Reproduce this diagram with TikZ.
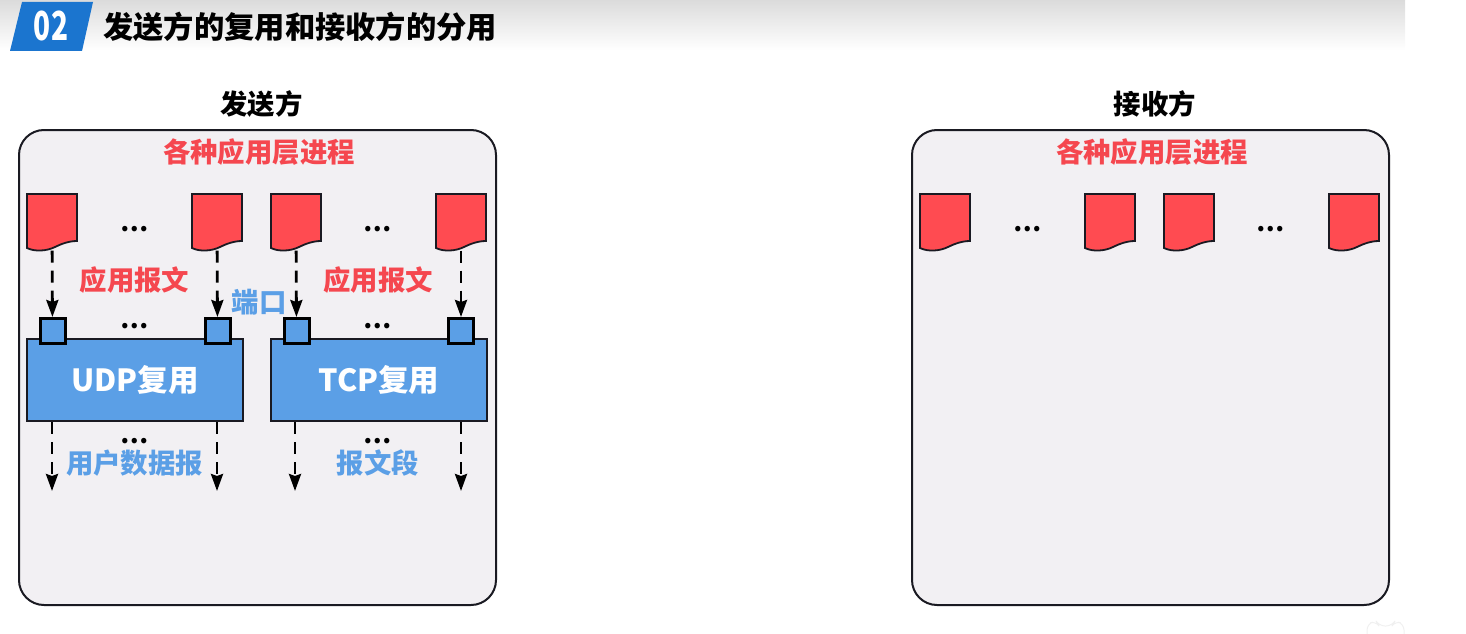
\documentclass[tikz,border=0pt]{standalone}
\usepackage{fontspec}
\usepackage{xparse}
\setmainfont{Noto Sans CJK SC}
\usetikzlibrary{arrows.meta}
\definecolor{DInk}{HTML}{1A1A22}
\definecolor{Panel}{HTML}{F2F0F3}
\definecolor{LRed}{HTML}{FF4B51}
\definecolor{TRed}{HTML}{F5474F}
\definecolor{LBlue}{HTML}{5B9FE6}
\definecolor{HBlue}{HTML}{1B75CF}
\tikzset{
    panelbox/.style={draw=DInk, fill=Panel, line width=2pt, rounded corners=25pt},
    sidelabel/.style={font=\bfseries\fontsize{27.4}{27}\selectfont, text=black, inner sep=0pt},
    redlabel/.style={font=\bfseries\fontsize{27.4}{27}\selectfont, text=TRed, inner sep=0pt},
    bluelabel/.style={font=\bfseries\fontsize{27.4}{27}\selectfont, text=LBlue, inner sep=0pt},
    dotlabel/.style={font=\bfseries\fontsize{25}{25}\selectfont, text=black, inner sep=0pt},
    muxbox/.style={draw=DInk, fill=LBlue, line width=2pt, minimum width=216pt, minimum height=82pt,
        inner sep=0pt, text=white, font=\bfseries\fontsize{30.5}{30}\selectfont},
    portbox/.style={draw=black, fill=LBlue, line width=3pt, minimum size=25pt, inner sep=0pt},
    docnode/.style={minimum width=50pt, minimum height=57pt, inner sep=0pt},
    flow/.style={black, line width=2.8pt, dash pattern=on 12pt off 8pt,
        -{Stealth[length=17pt, width=12pt, inset=2pt]}},
}
\NewDocumentCommand{\ProcDoc}{O{(0,0)} m}{
    \begin{scope}[shift={#1}]
    \draw[DInk, line width=1.8pt, fill=LRed] (0,0) -- (50,0) -- (50,47)
        .. controls (42,47) and (34,50) .. (28,53)
        .. controls (20,57) and (8,58) .. (0,54) -- cycle;
    \node[docnode] (#2) at (25,28) {};
    \end{scope}
}

\begin{document}
\begin{tikzpicture}[x=1pt, y=-1pt]
\useasboundingbox (0,0) rectangle (1466,634);

% header
\shade[top color=black!14, bottom color=white] (0,0) rectangle (1405,50);
\fill[HBlue] (22,2) -- (93,2) -- (82,51) -- (10,51) -- cycle;
\node[text=white, font=\bfseries\fontsize{40}{40}\selectfont, xscale=.7, inner sep=0pt] (num) at (51,26) {02};
\node[anchor=west, text=black, font=\bfseries\fontsize{30.3}{30}\selectfont, inner sep=0pt] (title) at (103,27) {发送方的复用和接收方的分用};

% sender
\node[sidelabel] (send) at (261.5,104) {发送方};
\draw[panelbox] (19,130) rectangle (496,605);
\node[redlabel] (send-proc) at (259,152) {各种应用层进程};

\ProcDoc[(27,194)]{doc-a}
\ProcDoc[(192,194)]{doc-b}
\ProcDoc[(271,194)]{doc-c}
\ProcDoc[(436,194)]{doc-d}
\node[dotlabel] (dots-a) at (134.5,229) {…};
\node[dotlabel] (dots-b) at (378,229) {…};

\node[redlabel] (msg-a) at (134.5,280) {应用报文};
\node[redlabel] (msg-b) at (378,280) {应用报文};
\node[bluelabel] (port-label) at (259,302) {端口};
\node[dotlabel] (dots-c) at (134.5,326) {…};
\node[dotlabel] (dots-d) at (378,326) {…};

\node[muxbox] (udp) at (135,380) {UDP复用};
\node[muxbox] (tcp) at (379,380) {TCP复用};

\node[portbox] (port-a) at (52.5,331) {};
\node[portbox] (port-b) at (217.5,331) {};
\node[portbox] (port-c) at (296.5,331) {};
\node[portbox] (port-d) at (461,331) {};

\draw[flow] (doc-a) -- (port-a);
\draw[flow] (doc-b) -- (port-b);
\draw[flow] (doc-c) -- (port-c);
\draw[flow] (doc-d) -- (port-d);

\coordinate (out-a) at (52,491);
\coordinate (out-b) at (217,491);
\coordinate (out-c) at (295,491);
\coordinate (out-d) at (461,491);
\draw[flow] (out-a |- udp.south) -- (out-a);
\draw[flow] (out-b |- udp.south) -- (out-b);
\draw[flow] (out-c |- tcp.south) -- (out-c);
\draw[flow] (out-d |- tcp.south) -- (out-d);

\node[dotlabel] (dots-e) at (134.5,441) {…};
\node[dotlabel] (dots-f) at (378,441) {…};
\node[bluelabel] (udp-label) at (134.5,463) {用户数据报};
\node[bluelabel] (tcp-label) at (378,463) {报文段};

% receiver
\node[sidelabel] (recv) at (1155,104) {接收方};
\draw[panelbox] (912,130) rectangle (1389,605);
\node[redlabel] (recv-proc) at (1152,152) {各种应用层进程};

\ProcDoc[(920,194)]{rdoc-a}
\ProcDoc[(1085,194)]{rdoc-b}
\ProcDoc[(1164,194)]{rdoc-c}
\ProcDoc[(1329,194)]{rdoc-d}
\node[dotlabel] (dots-g) at (1027.5,229) {…};
\node[dotlabel] (dots-h) at (1271,229) {…};

% faint mark in the corner
\draw[black!6, line width=1pt, rounded corners=6pt] (1367,634) -- (1367,624) -- (1376,621) -- (1379,626) -- (1392,626) -- (1395,621) -- (1404,624) -- (1404,634);
\end{tikzpicture}
\end{document}
